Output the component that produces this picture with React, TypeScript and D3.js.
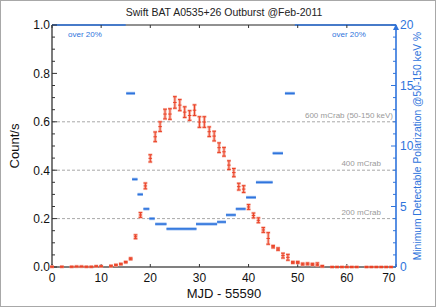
import React from "react";
import * as d3 from "d3";

// ---- data ----
const mjd = [0, 2, 4, 5, 6, 7, 8, 9, 10, 12, 13, 14, 15, 16, 17, 18, 19, 20, 21, 22, 23, 24, 25, 26, 27, 28, 29, 30, 31, 32, 33, 34, 35, 36, 37, 38, 39, 40, 41, 42, 43, 44, 45, 46, 47, 48, 49, 50, 51, 52, 53, 54, 55, 57, 58, 59, 60, 61, 62, 64, 65, 66, 67, 68, 69];
const counts = [0.001, 0.001, 0.001, 0.002, 0.002, 0.001, 0.001, 0.003, 0.003, 0.004, 0.008, 0.012, 0.02, 0.034, 0.125, 0.215, 0.335, 0.449, 0.538, 0.58, 0.632, 0.632, 0.68, 0.669, 0.64, 0.626, 0.648, 0.599, 0.599, 0.559, 0.541, 0.493, 0.476, 0.421, 0.39, 0.332, 0.322, 0.248, 0.213, 0.193, 0.153, 0.118, 0.084, 0.074, 0.047, 0.04, 0.019, 0.019, 0.012, 0.013, 0.011, 0.011, 0.003, 0, 0, 0, 0, 0, 0, 0, 0, 0, 0, 0, 0];
const countErr = [0.002, 0.002, 0.002, 0.002, 0.002, 0.002, 0.002, 0.002, 0.002, 0.003, 0.003, 0.003, 0.003, 0.004, 0.008, 0.01, 0.012, 0.015, 0.02, 0.02, 0.02, 0.022, 0.024, 0.023, 0.022, 0.02, 0.022, 0.022, 0.022, 0.02, 0.02, 0.02, 0.018, 0.018, 0.017, 0.014, 0.014, 0.01, 0.01, 0.01, 0.01, 0.024, 0.005, 0.005, 0.01, 0.012, 0.004, 0.004, 0.004, 0.004, 0.004, 0.006, 0.003, 0.002, 0.002, 0.002, 0.002, 0.002, 0.002, 0.002, 0.002, 0.002, 0.002, 0.002, 0.002];

const mdpStart = [15.1, 16.3, 17.4, 18.6, 19.8, 21.0, 23.3, 29.3, 33.6, 35.4, 37.4, 39.5, 41.5, 44.9, 47.4];
const mdpEnd = [16.9, 17.4, 18.5, 19.8, 20.9, 23.3, 29.4, 33.6, 35.4, 37.4, 39.4, 41.5, 44.9, 47.0, 49.4];
const mdpValue = [14.35, 7.25, 6.0, 4.8, 4.0, 3.55, 3.15, 3.55, 3.72, 4.3, 4.8, 5.75, 7.0, 9.4, 14.35];
const overStart = [0, 49.4];
const overEnd = [15.0, 70];
const overLabels = ["over 20%", "over 20%"];

const xTicks = [0, 10, 20, 30, 40, 50, 60, 70];
const yTicks = [0, 0.2, 0.4, 0.6, 0.8, 1.0];
const yTicksRight = [0, 5, 10, 15, 20];
const crabLevels = [0.2, 0.4, 0.6];
const crabLabels = ["200 mCrab", "400 mCrab", "600 mCrab (50-150 keV)"];

const title = "Swift BAT A0535+26 Outburst @Feb-2011";
const xTitle = "MJD - 55590";
const yTitle = "Count/s";
const y2Title = "Minimum Detectable Polarization @50-150 keV %";

const W = 436, H = 307;
const L = 52, R = 396, T = 25, B = 267;
const FONT = "'Liberation Sans', Arial, Helvetica, sans-serif";
const BLUE = "#2f74dc";
const RED = "#ea4328";

export default function App() {
  const x = d3.scaleLinear().domain([0, 70]).range([L, R]);
  const y = d3.scaleLinear().domain([0, 1]).range([B, T]);
  const y2 = d3.scaleLinear().domain([0, 20]).range([B, T]);

  const yMinor = d3.range(0, 1.0001, 0.05);
  const y2Minor = d3.range(0, 20.001, 1);

  return (
    <svg width={W} height={H} style={{ position: "fixed", left: 0, top: 0, background: "#fff" }} fontFamily={FONT}>
      <rect x={0.5} y={0.5} width={W - 1} height={H - 1} fill="#fff" stroke="#a8a8a8" />
      <text x={(L + R) / 2} y={16} textAnchor="middle" fontSize={10.5} fill="#222">{title}</text>

      {/* crab reference lines */}
      {crabLevels.map((c, i) => (
        <g key={"c" + i}>
          <line x1={L} x2={R} y1={y(c)} y2={y(c)} stroke="#a9a9a9" strokeDasharray="3,2" strokeWidth={1} />
          <text x={i === 2 ? 393 : 381} y={y(c) - 4} textAnchor="end" fontSize={8} fill="#9a9a9a">{crabLabels[i]}</text>
        </g>
      ))}

      {/* MDP bars */}
      {mdpValue.map((v, i) => (
        <g key={"m" + i}>
          <line x1={x(mdpStart[i])} x2={x(mdpEnd[i])} y1={y2(v)} y2={y2(v)} stroke="#9fc0f2" strokeWidth={3.2} />
          <line x1={x(mdpStart[i])} x2={x(mdpEnd[i])} y1={y2(v)} y2={y2(v)} stroke={BLUE} strokeWidth={1.6} />
        </g>
      ))}

      {/* axes frame */}
      <line x1={L} x2={R} y1={T} y2={T} stroke="#222" strokeWidth={1} />
      <line x1={L} x2={L} y1={T} y2={B} stroke="#222" strokeWidth={1.2} />
      <line x1={L} x2={R} y1={B} y2={B} stroke="#808080" strokeWidth={1.8} />

      {overStart.map((s, i) => (
        <g key={"o" + i}>
          <line x1={x(s)} x2={x(overEnd[i])} y1={y2(20)} y2={y2(20)} stroke={BLUE} strokeWidth={1.6} />
          <text x={i === 0 ? 68 : 332} y={37} fontSize={8} fill={BLUE}>{overLabels[i]}</text>
        </g>
      ))}

      {/* x ticks */}
      {xTicks.map((t, i) => (
        <g key={"x" + t}>
          <line x1={x(t)} x2={x(t)} y1={B} y2={B - 3} stroke="#333" />
          <line x1={x(t)} x2={x(t)} y1={T} y2={T + 3} stroke="#333" />
          <text x={i === xTicks.length - 1 ? x(t) - 0.5 : x(t)} y={281.5} textAnchor={i === xTicks.length - 1 ? "end" : "middle"} fontSize={12} fill="#111">{t}</text>
        </g>
      ))}
      <text x={(L + R) / 2} y={298} textAnchor="middle" fontSize={13} fill="#111">{xTitle}</text>

      {/* left y ticks */}
      {yMinor.map((t, i) => (
        <line key={"ym" + i} x1={L} x2={L + (i % 4 === 0 ? 5 : 3)} y1={y(t)} y2={y(t)} stroke="#333" />
      ))}
      {yTicks.map((t) => (
        <text key={"yl" + t} x={50} y={y(t) + 4.3} textAnchor="end" fontSize={12} fill="#111">{d3.format(".1f")(t)}</text>
      ))}
      <text transform={`translate(19,${(T + B) / 2}) rotate(-90)`} textAnchor="middle" fontSize={13} fill="#111">{yTitle}</text>

      {/* right axis */}
      <line x1={R} x2={R} y1={T + 2} y2={B} stroke={BLUE} strokeWidth={1.6} />
      <path d={`M${R - 3},${T + 5}L${R},${T - 1}L${R + 3},${T + 5}Z`} fill={BLUE} />
      {y2Minor.map((t, i) => (
        <line key={"y2m" + i} x1={R} x2={R - (i % 5 === 0 ? 5 : 3)} y1={y2(t)} y2={y2(t)} stroke={BLUE} />
      ))}
      {yTicksRight.map((t) => (
        <text key={"y2l" + t} x={400} y={y2(t) + 4.3} textAnchor="start" fontSize={12} fill={BLUE}>{t}</text>
      ))}
      <text transform={`translate(421,${(T + B) / 2}) rotate(-90)`} textAnchor="middle" fontSize={10.3} fill={BLUE}>{y2Title}</text>

      {/* count rate points */}
      {mjd.map((m, i) => {
        const cx = x(m);
        const lo = y(counts[i] - countErr[i]);
        const hi = y(counts[i] + countErr[i]);
        const cy = y(counts[i]);
        return (
          <g key={"p" + i}>
            <line x1={cx} x2={cx} y1={lo} y2={hi} stroke="#f7a898" strokeWidth={3} opacity={0.8} />
            <line x1={cx - 2} x2={cx + 2} y1={lo} y2={lo} stroke="#f7a898" strokeWidth={2.5} opacity={0.8} />
            <line x1={cx - 2} x2={cx + 2} y1={hi} y2={hi} stroke="#f7a898" strokeWidth={2.5} opacity={0.8} />
            <line x1={cx} x2={cx} y1={lo} y2={hi} stroke={RED} strokeWidth={1} />
            <line x1={cx - 1.8} x2={cx + 1.8} y1={lo} y2={lo} stroke={RED} strokeWidth={1} />
            <line x1={cx - 1.8} x2={cx + 1.8} y1={hi} y2={hi} stroke={RED} strokeWidth={1} />
            <line x1={cx - 1.8} x2={cx + 1.8} y1={cy} y2={cy} stroke={RED} strokeWidth={1} />
          </g>
        );
      })}
    </svg>
  );
}
